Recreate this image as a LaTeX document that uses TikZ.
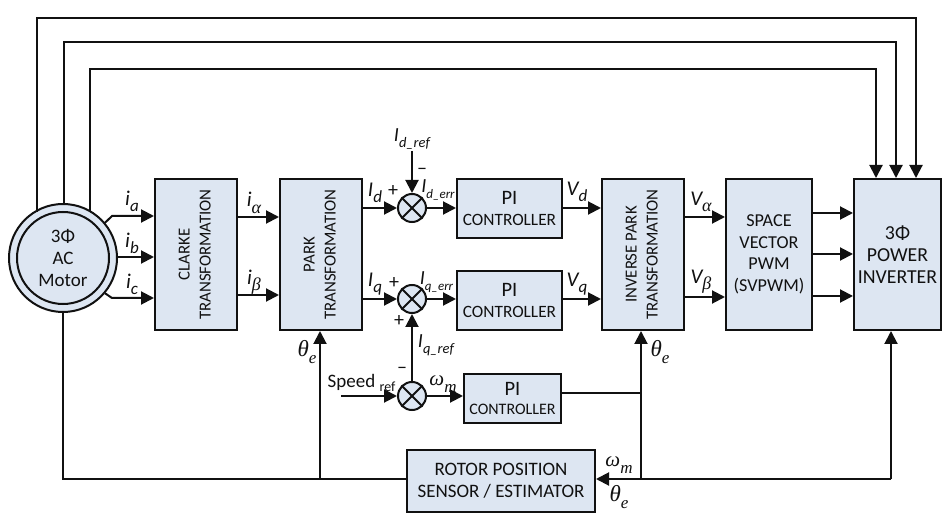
\documentclass[tikz,border=0pt]{standalone}
\usepackage{fontspec}
\setmainfont{Carlito}
\newfontfamily\grk{Liberation Serif}
\usetikzlibrary{arrows.meta}
\definecolor{boxfill}{HTML}{DDE6F2}
\definecolor{ink}{HTML}{111111}
\newcommand{\lb}[4][21]{{\fontsize{#1}{#1}\selectfont\itshape #2\raisebox{-0.3em}{\fontsize{#4}{#4}\selectfont #3}}}
\newcommand{\bigpi}{{\fontsize{20.5}{21}\selectfont PI}}
\tikzset{
  x=1pt,y=-1pt,
  every node/.style={text=ink},
  block/.style={draw=ink,line width=2pt,fill=boxfill,inner sep=0pt,align=center,anchor=north west,font=\fontsize{17.3}{21}\selectfont},
  rotblock/.style={block,font=\fontsize{16.8}{21}\selectfont},
  wire/.style={draw=ink,line width=2pt},
  arr/.style={wire,-{Triangle[length=13pt,width=13pt]}},
  sumj/.style={circle,draw=ink,line width=2pt,fill=boxfill,minimum size=28pt,inner sep=0pt},
  lab/.style={inner sep=0pt,anchor=center},
  sign/.style={inner sep=0pt,font=\fontsize{20}{20}\selectfont},
}
\begin{document}
\begin{tikzpicture}
\useasboundingbox (0,0) rectangle (950,518);
% motor
\node[circle,draw=ink,line width=2pt,fill=boxfill,minimum size=108pt,inner sep=0pt] (motorO) at (63,258) {};
\node[circle,draw=ink,line width=2pt,fill=boxfill,minimum size=92pt,inner sep=0pt,align=center,font=\fontsize{19}{22}\selectfont] (motor) at (63,258) {3Φ\\AC\\Motor};
% blocks
\node[rotblock,minimum width=82pt,minimum height=151pt] (clarke) at (154,178) {\rotatebox{90}{\begin{tabular}{@{}c@{}}CLARKE\\TRANSFORMATION\end{tabular}}};
\node[rotblock,minimum width=82pt,minimum height=151pt] (park) at (279,178) {\rotatebox{90}{\begin{tabular}{@{}c@{}}PARK\\TRANSFORMATION\end{tabular}}};
\node[block,minimum width=105pt,minimum height=59pt] (pid) at (456,178) {\bigpi\\CONTROLLER};
\node[block,minimum width=105pt,minimum height=59pt] (piq) at (456,270) {\bigpi\\CONTROLLER};
\node[block,minimum width=97pt,minimum height=49pt,font=\fontsize{16}{19}\selectfont] (pis) at (463,373) {\bigpi\\CONTROLLER};
\node[rotblock,minimum width=82pt,minimum height=151pt] (ipark) at (601,178) {\rotatebox{90}{\begin{tabular}{@{}c@{}}INVERSE PARK\\TRANSFORMATION\end{tabular}}};
\node[block,minimum width=86pt,minimum height=151pt,font=\fontsize{18.2}{21.7}\selectfont] (svm) at (725,178) {SPACE\\VECTOR\\PWM\\(SVPWM)};
\node[block,minimum width=87pt,minimum height=151pt,font=\fontsize{19.8}{22}\selectfont] (inv) at (853,178) {3Φ\\POWER\\INVERTER};
\node[block,minimum width=188pt,minimum height=62pt,font=\fontsize{19}{22}\selectfont] (rotor) at (406,449) {ROTOR POSITION\\SENSOR / ESTIMATOR};
% summing junctions
\node[sumj] (s1) at (412,208) {};
\node[sumj] (s2) at (412,299) {};
\node[sumj] (s3) at (412,396) {};
\foreach \s in {s1,s2,s3}{
  \draw[wire] (\s.north west) -- (\s.south east);
  \draw[wire] (\s.north east) -- (\s.south west);
}
% motor to clarke
\coordinate (ka) at (112,216);
\coordinate (kc) at (112,298);
\draw[arr] (motorO.40) -- (ka) -- (clarke.west|-ka);
\draw[arr] (motorO.east|-0,257) -- (clarke.west|-0,257);
\draw[arr] (motorO.-40) -- (kc) -- (clarke.west|-kc);
% clarke to park
\draw[arr] (clarke.east|-0,217) -- (park.west|-0,217);
\draw[arr] (clarke.east|-0,295) -- (park.west|-0,295);
% park to sums
\draw[arr] (park.east|-s1) -- (s1.west);
\draw[arr] (park.east|-s2) -- (s2.west);
% sums to PI
\draw[arr] (s1.east) -- (pid.west|-s1);
\draw[arr] (s2.east) -- (piq.west|-s2);
\draw[arr] (s3.east) -- (pis.west|-s3);
% PI to ipark
\draw[arr] (pid.east|-s1) -- (ipark.west|-s1);
\draw[arr] (piq.east|-s2) -- (ipark.west|-s2);
% ipark to svm
\draw[arr] (ipark.east|-0,217) -- (svm.west|-0,217);
\draw[arr] (ipark.east|-0,297) -- (svm.west|-0,297);
% svm to inverter
\draw[arr] (svm.east|-0,213) -- (inv.west|-0,213);
\draw[arr] (svm.east|-0,254) -- (inv.west|-0,254);
\draw[arr] (svm.east|-0,296) -- (inv.west|-0,296);
% references
\coordinate (idref) at (412,151);
\coordinate (spd) at (341,396);
\draw[arr] (idref) -- (s1.north);
\draw[arr] (spd) -- (s3.west);
\draw[arr] (s3.north) -- (s2.south);
% top feedback
\draw[arr] (37,212) -- (37,18) -- (916,18) -- (916,178);
\draw[arr] (64,204) -- (64,42) -- (896,42) -- (896,178);
\draw[arr] (90,212) -- (90,69) -- (876,69) -- (876,178);
% bottom feedback
\coordinate (fbpark) at (320,479);
\coordinate (fbip) at (641,479);
\coordinate (fbinv) at (891,479);
\draw[wire] (motorO.south) -- (63,479) -- (rotor.west|-0,479);
\draw[arr] (fbpark) -- (park.south-|fbpark);
\draw[arr] (fbinv) -- (rotor.east|-fbinv);
\draw[arr] (fbinv) -- (inv.south-|fbinv);
\draw[arr] (fbip) -- (ipark.south-|fbip);
\draw[wire] (pis.east|-0,393) -- (641,393);
% labels
\node[lab] at (132,201) {\lb{i}{a}{17}};
\node[lab] at (132,243) {\lb{i}{b}{17}};
\node[lab] at (132,284) {\lb{i}{c}{17}};
\node[lab] at (254,203) {\lb{i}{\grk\itshape α}{18}};
\node[lab] at (254,282) {\lb{i}{\grk\itshape β}{18}};
\node[lab] at (375,193) {\lb{I}{d}{17}};
\node[lab] at (375,284) {\lb{I}{q}{17}};
\node[sign] at (393,191) {+};
\node[sign] at (394,283) {+};
\node[sign] at (422,171) {–};
\node[sign] at (399,321) {+};
\node[sign] at (402,370) {–};
\node[lab] at (412,139) {\lb[20]{I}{d\_ref}{14.5}};
\node[lab] at (438,190) {\lb[20]{I}{d\_err}{13}};
\node[lab] at (436.5,282) {\lb[20]{I}{q\_err}{13}};
\node[lab] at (436,345) {\lb[20]{I}{q\_ref}{14.5}};
\node[lab] at (361.5,383) {{\fontsize{19}{19}\selectfont Speed \raisebox{-0.25em}{\fontsize{14}{14}\selectfont ref}}};
\node[lab] at (443,384) {\lb{\grk\itshape ω}{m}{17}};
\node[lab] at (577,192) {\lb{V}{d}{17}};
\node[lab] at (577,284) {\lb{V}{q}{17}};
\node[lab] at (701,202) {\lb{V}{\grk\itshape α}{18}};
\node[lab] at (701,282) {\lb{V}{\grk\itshape β}{18}};
\node[lab] at (307,352) {\lb[23]{\grk\itshape θ}{e}{17}};
\node[lab] at (660,352) {\lb[23]{\grk\itshape θ}{e}{17}};
\node[lab] at (619,465) {\lb{\grk\itshape ω}{m}{17}};
\node[lab] at (619,497) {\lb[23]{\grk\itshape θ}{e}{17}};
\end{tikzpicture}
\end{document}
